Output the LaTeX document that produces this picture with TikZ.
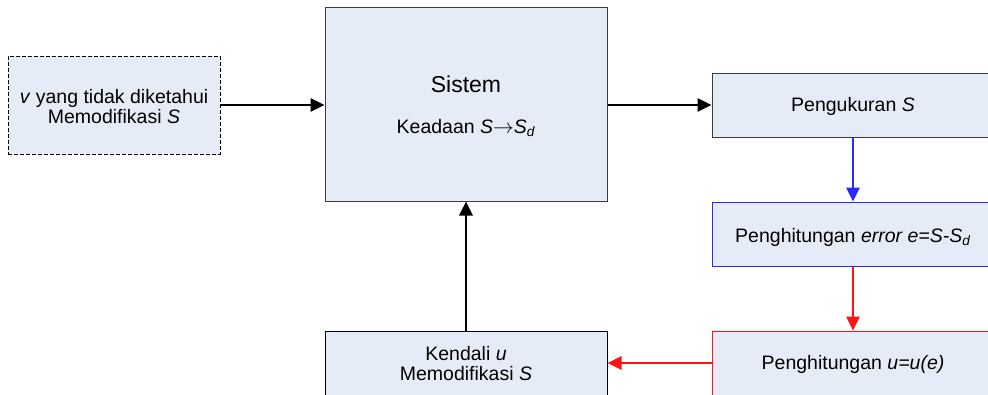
\documentclass[tikz,border=0pt]{standalone}
\usepackage{fontspec}
\setmainfont{Liberation Sans}
\usetikzlibrary{arrows.meta}
\definecolor{boxfill}{RGB}{230,236,247}
\definecolor{boxline}{RGB}{60,60,60}
\definecolor{myblue}{RGB}{40,40,255}
\definecolor{myred}{RGB}{255,20,20}
\tikzset{
  blk/.style={draw=boxline, fill=boxfill, line width=1pt, rectangle, inner sep=0pt},
  txt/.style={inner sep=0pt, font=\fontsize{19.5}{20}\selectfont, align=center},
  conn/.style={line width=2.8pt, -{Triangle[length=14pt,width=13pt]}},
}
\begin{document}
\begin{tikzpicture}[x=1pt,y=-1pt]
\useasboundingbox (0,0) rectangle (988,394);
\clip (0,0) rectangle (988,394);
% boxes
\node[blk, line width=0.8pt, dash pattern=on 4pt off 2pt, draw=black, minimum width=212pt, minimum height=98pt] (dist) at (114,105) {};
\node[txt] (distT) at (114,107) {\textit{v} yang tidak diketahui\\Memodifikasi \textit{S}};
\node[blk, minimum width=282pt, minimum height=194pt] (sys) at (466,104) {};
\node[txt, font=\fontsize{23}{24}\selectfont] (sysT1) at (466,84) {Sistem};
\node[txt] (sysT2) at (466,128) {Keadaan \textit{S}\ensuremath{\rightarrow}\textit{S}\textsubscript{\textit{d}}};
\node[blk, minimum width=282pt, minimum height=64pt] (meas) at (853,105) {};
\node[txt] (measT) at (853,106) {Pengukuran \textit{S}};
\node[blk, draw=myblue, minimum width=282pt, minimum height=64pt] (err) at (853,234) {};
\node[txt] (errT) at (853,237) {Penghitungan \textit{error e=S-S}\textsubscript{\textit{d}}};
\node[blk, draw=myred, minimum width=282pt, minimum height=64pt] (calc) at (853,363) {};
\node[txt] (calcT) at (853,364) {Penghitungan \textit{u=u(e)}};
\node[blk, draw=black, minimum width=282pt, minimum height=64pt] (ctrl) at (466,363) {};
\node[txt] (ctrlT) at (466,364) {Kendali \textit{u}\\Memodifikasi \textit{S}};
% connectors
\draw[conn] (dist.east) -- (sys.west |- dist.east);
\draw[conn] (sys.east |- meas.west) -- (meas.west);
\draw[conn, myblue] (meas.south) -- (err.north);
\draw[conn, myred] (err.south) -- (calc.north);
\draw[conn, myred] (calc.west) -- (ctrl.east);
\draw[conn] (ctrl.north) -- (sys.south);
\end{tikzpicture}
\end{document}
